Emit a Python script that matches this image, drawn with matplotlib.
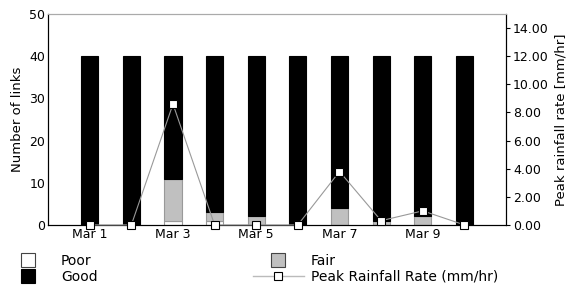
import matplotlib
matplotlib.use("Agg")
import matplotlib.pyplot as plt
from matplotlib.lines import Line2D
import numpy as np

days = [1, 2, 3, 4, 5, 6, 7, 8, 9, 10]
tick_days = [1, 3, 5, 7, 9]
tick_labels = ['Mar 1', 'Mar 3', 'Mar 5', 'Mar 7', 'Mar 9']

poor = [0, 0, 1, 1, 0, 0, 0, 0, 0, 0]
fair = [0, 0, 10, 2, 2, 0, 4, 1, 2, 0]
good = [40, 40, 29, 37, 38, 40, 36, 39, 38, 40]
rain = [0.0, 0.0, 8.6, 0.0, 0.0, 0.0, 3.8, 0.3, 1.0, 0.0]

fig = plt.figure(figsize=(5.66, 2.94), dpi=100)
ax = fig.add_axes([0.085, 0.235, 0.809, 0.717])

poor = np.array(poor)
fair = np.array(fair)
good = np.array(good)
w = 0.41
ax.bar(days, poor, w, color='white', edgecolor='#999999', linewidth=0.8)
ax.bar(days, fair, w, bottom=poor, color='#c0c0c0', edgecolor='#999999', linewidth=0.8)
ax.bar(days, good, w, bottom=poor + fair, color='black', edgecolor='black', linewidth=0.8)

ax.set_ylim(0, 50)
ax.set_xlim(0, 11)
ax.set_yticks([0, 10, 20, 30, 40, 50])
ax.set_xticks(tick_days)
ax.set_xticklabels(tick_labels)
ax.set_ylabel('Number of links', fontsize=9.5)
ax.tick_params(axis='both', length=0, labelsize=9, pad=2)
ax.spines['top'].set_color('#aaaaaa')

ax2 = ax.twinx()
l1, = ax2.plot(days, rain, color='#999999', linewidth=0.8, marker='s', markersize=5.5,
               markerfacecolor='white', markeredgecolor='black', markeredgewidth=0.8,
               clip_on=False, zorder=5)
ax2.set_ylim(0, 15)
ax2.set_yticks(np.arange(0, 15, 2))
ax2.set_yticklabels(['%.2f' % v for v in np.arange(0, 15, 2)])
ax2.set_ylabel('Peak rainfall rate [mm/hr]', fontsize=9.5)
ax2.tick_params(axis='y', length=3, labelsize=9, pad=2)
ax2.spines['top'].set_color('#aaaaaa')

h_poor = Line2D([], [], ls='none', marker='s', markersize=9.5, markerfacecolor='white',
                markeredgecolor='#444444', markeredgewidth=0.8)
h_fair = Line2D([], [], ls='none', marker='s', markersize=9.5, markerfacecolor='#c0c0c0',
                markeredgecolor='#444444', markeredgewidth=0.8)
h_good = Line2D([], [], ls='none', marker='s', markersize=9.5, markerfacecolor='black',
                markeredgecolor='black', markeredgewidth=0.8)
h_rain = Line2D([], [], color='#bbbbbb', linewidth=1, marker='s', markersize=5.5,
                markerfacecolor='white', markeredgecolor='black', markeredgewidth=0.8)

fig.legend([h_poor, h_good, h_fair, h_rain], ['Poor', 'Good', 'Fair', 'Peak Rainfall Rate (mm/hr)'],
           ncol=2, loc='lower left', bbox_to_anchor=(0.0, 0.025, 0.885, 0.15), mode='expand',
           frameon=False, fontsize=10, handlelength=3.7, handletextpad=0.5,
           labelspacing=0.15, borderpad=0.2, borderaxespad=0.0)

fig.savefig('out.png', dpi=100)
